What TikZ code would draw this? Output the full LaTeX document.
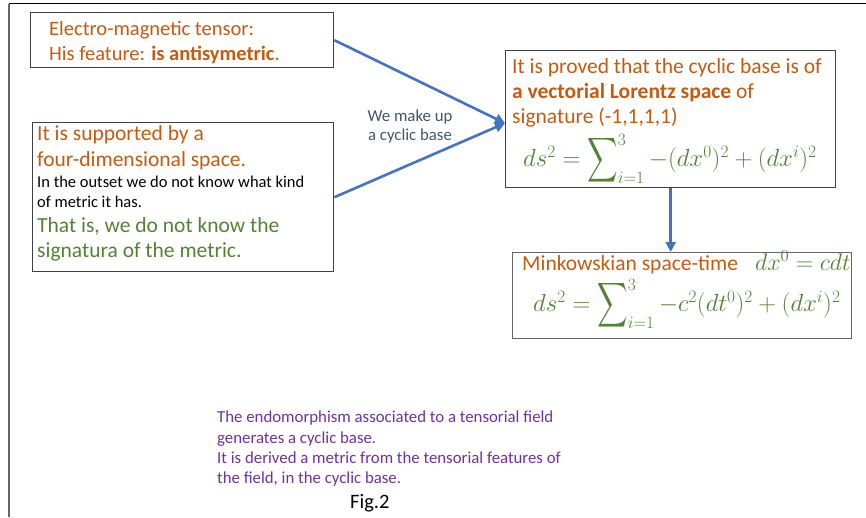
\RequirePackage{fix-cm}
\documentclass[tikz,border=0pt]{standalone}
\usepackage{amsmath}
\usepackage{graphicx}
\usepackage{fontspec}
\setmainfont{Carlito}
\usetikzlibrary{arrows.meta}
\definecolor{orng}{HTML}{C55A11}
\definecolor{grn}{HTML}{548235}
\definecolor{purp}{HTML}{7030A0}
\definecolor{navy}{HTML}{44546A}
\definecolor{arrblue}{HTML}{4472C4}
\definecolor{frame}{HTML}{404040}
\newcommand{\fsz}[1]{\fontsize{#1}{#1}\selectfont}
\newcommand{\tallsum}[2]{\mathop{\vcenter{\hbox{\scalebox{0.85}[1.25]{$\displaystyle\sum$}}}}\nolimits_{\raisebox{2pt}{$\scriptstyle #1$}}^{\raisebox{-3.5pt}{$\scriptstyle #2$}}}
\begin{document}
\begin{tikzpicture}[x=1pt,y=-1pt,
  box/.style={draw=frame, line width=1.4pt, inner sep=0pt, anchor=north west},
  txt/.style={anchor=base west, inner sep=0pt},
  arr/.style={draw=arrblue, line width=2.6pt, -{Triangle[length=10pt,width=10pt]}},
  bigA/.style={font=\fsz{20.5}},
  big/.style={font=\fsz{21.5}},
  small/.style={font=\fsz{16.5}},
  mid/.style={font=\fsz{16.8}},
  mth/.style={font=\fsz{24.8}}]
\useasboundingbox (0,0) rectangle (866,517);
% outer frame
\draw[line width=1.4pt, black] (866,3.5) -- (8.5,3.5);
\draw[line width=2pt, frame!80] (8.5,3.5) -- (8.5,517);

% boxes
\node[box, minimum width=303pt, minimum height=55pt] (b1) at (30,12) {};
\node[box, minimum width=301pt, minimum height=149pt] (b2) at (32,122) {};
\node[box, minimum width=330pt, minimum height=137pt] (b3) at (505,50) {};
\node[box, draw=frame!80, minimum width=339pt, minimum height=86pt] (b4) at (512,252) {};

% box 1 text
\node[txt, bigA, text=orng] (t11) at (49,35) {Electro-magnetic tensor:};
\node[txt, bigA, text=orng] (t12) at (49,60) {His feature: \textbf{is antisymetric}.};

% box 2 text
\node[txt, big, text=orng] (t21) at (37,140) {It is supported by a};
\node[txt, big, text=orng] (t22) at (37,166) {four-dimensional space.};
\node[txt, small, text=black] (t23) at (37,187) {In the outset we do not know what kind};
\node[txt, small, text=black] (t24) at (37,207) {of metric it has.};
\node[txt, big, text=grn] (t25) at (37,232) {That is, we do not know the};
\node[txt, big, text=grn] (t26) at (37,257) {signatura of the metric.};

% box 3 text
\node[txt, big, text=orng] (t31) at (512,73) {It is proved that the cyclic base is of};
\node[txt, big, text=orng] (t32) at (512,98) {\textbf{a vectorial Lorentz space} of};
\node[txt, big, text=orng] (t33) at (512,123) {signature (-1,1,1,1)};
\node[txt, mth, text=grn] (t34) at (523,166) {$ds^2=\tallsum{i=1}{3}-(dx^0)^2+(dx^i)^2$};

% box 4 text
\node[txt, big, text=orng] (t41) at (522,270) {Minkowskian space-time};
\node[txt, font=\fsz{23.9}, text=grn] (t42) at (755,270) {$dx^0=cdt$};
\node[txt, mth, text=grn] (t43) at (533,311) {$ds^2=\tallsum{i=1}{3}-c^2(dt^0)^2+(dx^i)^2$};

% arrow label
\node[anchor=base, inner sep=0pt, mid, text=navy] (l1) at (410,121) {We make up};
\node[anchor=base, inner sep=0pt, mid, text=navy] (l2) at (410,140) {a cyclic base};

% purple text
\node[txt, mid, text=purp] (p1) at (217,422) {The endomorphism associated to a tensorial field};
\node[txt, mid, text=purp] (p2) at (217,443) {generates a cyclic base.};
\node[txt, mid, text=purp] (p3) at (217,463) {It is derived a metric from the tensorial features of};
\node[txt, mid, text=purp] (p4) at (217,483) {the field, in the cyclic base.};
\node[txt, font=\fsz{20.5}, text=black] (fig) at (350,508) {Fig.2};

% connectors
\coordinate (tip) at ([yshift=-4pt]b3.west);
\draw[arr] (b1.east) -- (tip);
\draw[arr] (b2.east) -- (tip);
\draw[arr] (b3.south) -- (b3.south |- b4.north);
\end{tikzpicture}
\end{document}
